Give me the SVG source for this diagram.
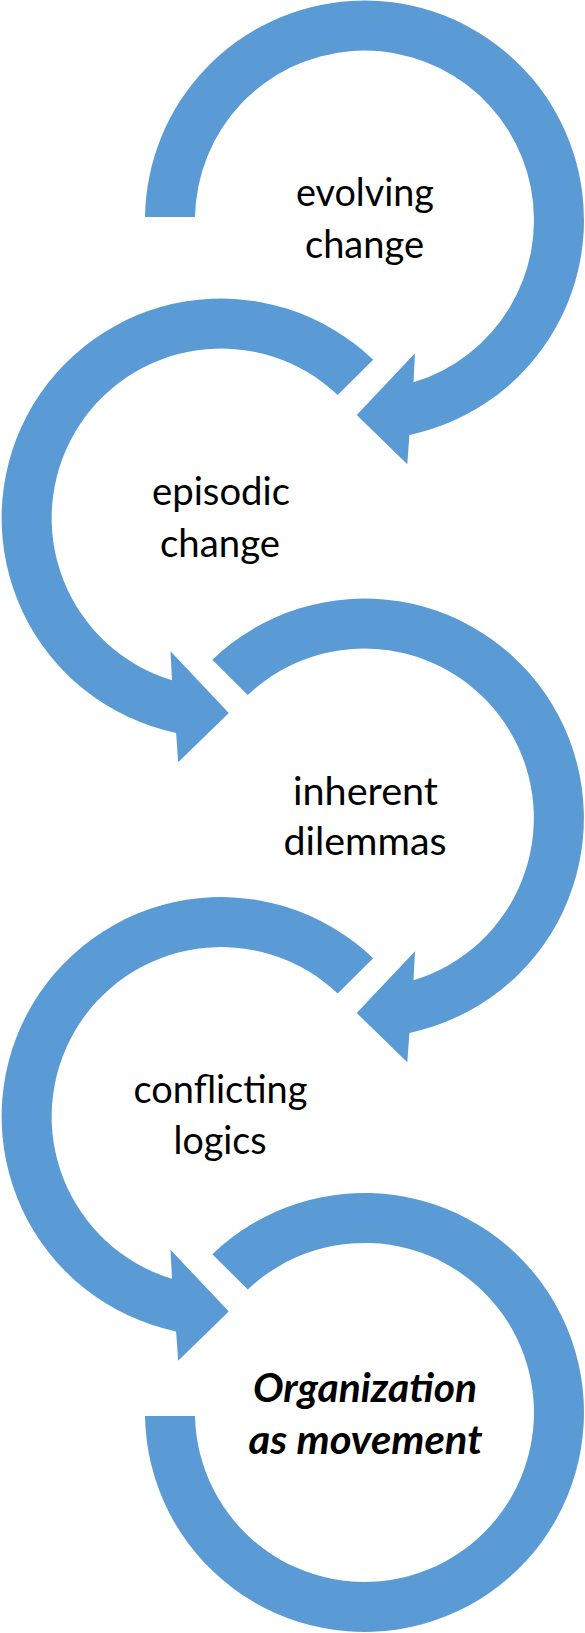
<svg xmlns="http://www.w3.org/2000/svg" width="585" height="1633" viewBox="0 0 585 1633">
<style>
.arrow{fill:#5B9BD5;stroke:none}
.lbl{font-family:Lato,"Open Sans","Liberation Sans",sans-serif;font-size:39px;fill:#000;text-anchor:middle}
.main{font-family:Lato,"Open Sans","Liberation Sans",sans-serif;font-size:41px;font-weight:bold;font-style:italic;fill:#000;text-anchor:middle}
</style>
<rect width="585" height="1633" fill="#fff"/>
<defs>
<path id="arrR1" d="M -219.5 -3 A 219.5 219.5 0 1 1 44.9 214.9 L 42.8 244.3 L -7.8 195 L 50.5 133.3 L 49 162.3 A 169.5 169.5 0 1 0 -169.5 -3 Z"/>
<path id="arrR" d="M -152.2 -158.2 A 219.5 219.5 0 1 1 44.9 214.9 L 42.8 244.3 L -7.8 195 L 50.5 133.3 L 49 162.3 A 169.5 169.5 0 1 0 -116.7 -123 Z"/>
<path id="arrL" d="M 152.2 -158.2 A 219.5 219.5 0 1 0 -44.9 214.9 L -42.8 244.3 L 7.8 195 L -50.5 133.3 L -49 162.3 A 169.5 169.5 0 1 1 116.7 -123 Z"/>
<path id="ring" d="M -152.2 -158.2 A 219.5 219.5 0 1 1 -219.5 3.5 L -169.5 3.5 A 169.5 169.5 0 1 0 -116.7 -123 Z"/>
</defs>
<g id="connectors"></g>
<g id="node-evolving" transform="translate(364.5,220)">
<use href="#arrR1" class="arrow"/>
<text class="lbl" x="0.5" y="-14" textLength="138" lengthAdjust="spacingAndGlyphs">evolving</text>
<text class="lbl" x="0" y="38" textLength="119" lengthAdjust="spacingAndGlyphs">change</text>
</g>
<g id="node-episodic" transform="translate(221,518)">
<use href="#arrL" class="arrow"/>
<text class="lbl" x="0" y="-13" textLength="138" lengthAdjust="spacingAndGlyphs">episodic</text>
<text class="lbl" x="-1" y="38.5" textLength="120" lengthAdjust="spacingAndGlyphs">change</text>
</g>
<g id="node-inherent" transform="translate(364.5,818)">
<use href="#arrR" class="arrow"/>
<text class="lbl" x="1" y="-13" textLength="145" lengthAdjust="spacingAndGlyphs">inherent</text>
<text class="lbl" x="0.5" y="37" textLength="163" lengthAdjust="spacingAndGlyphs">dilemmas</text>
</g>
<g id="node-conflicting" transform="translate(221,1116.5)">
<use href="#arrL" class="arrow"/>
<text class="lbl" x="-0.5" y="-13.5" textLength="174" lengthAdjust="spacingAndGlyphs">conflicting</text>
<text class="lbl" x="-1" y="37.5" textLength="93" lengthAdjust="spacingAndGlyphs">logics</text>
</g>
<g id="node-organization" transform="translate(364.5,1412.5)">
<use href="#ring" class="arrow"/>
<text class="main" x="0.5" y="-11" textLength="224" lengthAdjust="spacingAndGlyphs">Organization</text>
<text class="main" x="1" y="41" textLength="234" lengthAdjust="spacingAndGlyphs">as movement</text>
</g>
</svg>
